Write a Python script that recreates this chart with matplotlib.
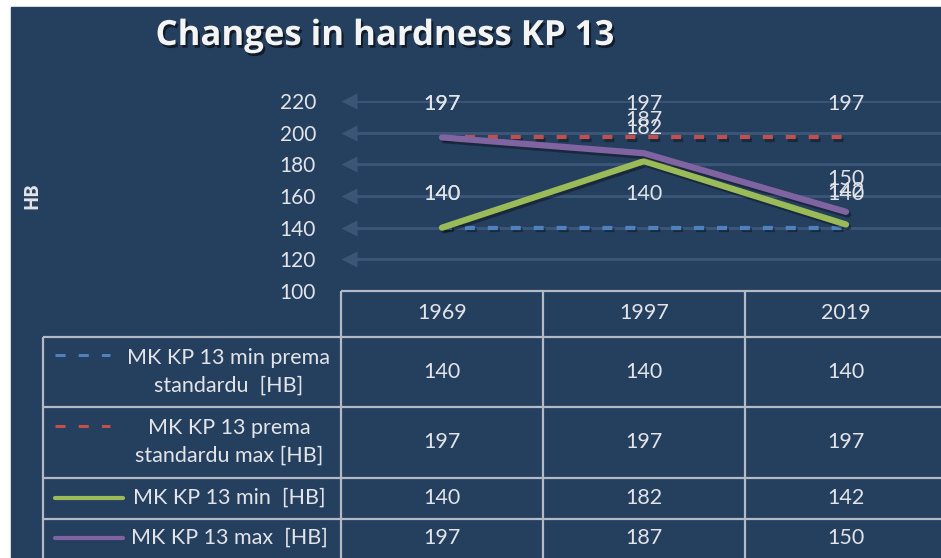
import matplotlib
matplotlib.use("Agg")
import matplotlib.pyplot as plt
import matplotlib.patheffects as pe
from matplotlib.patches import Rectangle
from matplotlib.transforms import blended_transform_factory

plt.rcParams['font.family'] = ['Lato', 'DejaVu Sans']

# podaci
godine = ["1969", "1997", "2019"]
min_standard = [140, 140, 140]
max_standard = [197, 197, 197]
kp13_min = [140, 182, 142]
kp13_max = [197, 187, 150]

nazivi = ["MK KP 13 min prema\nstandardu  [HB]",
          "MK KP 13 prema\nstandardu max [HB]",
          "MK KP 13 min  [HB]",
          "MK KP 13 max  [HB]"]

y_ticks = [100, 120, 140, 160, 180, 200, 220]

POZADINA = "#253F5F"
MREZA = "#3A5575"
TEKST = "#E2E4E8"
RUB = "#B3BAC6"
VEL = 15.5

serije = [min_standard, max_standard, kp13_min, kp13_max]
stilovi = [
    dict(color="#4F81BD", lw=3, ls=(0, (2.4, 3.1)), dash_capstyle="butt"),
    dict(color="#C0504D", lw=3, ls=(0, (2.4, 3.1)), dash_capstyle="butt"),
    dict(color="#9BBB59", lw=4.5, solid_capstyle="round", solid_joinstyle="round"),
    dict(color="#8064A2", lw=4.5, solid_capstyle="round", solid_joinstyle="round"),
]
kljuc = [
    dict(color="#4F81BD", lw=2.2, ls=(0, (3.3, 4.3)), dash_capstyle="butt"),
    dict(color="#C0504D", lw=2.2, ls=(0, (3.3, 4.3)), dash_capstyle="butt"),
    dict(color="#9BBB59", lw=3, solid_capstyle="round"),
    dict(color="#8064A2", lw=3, solid_capstyle="round"),
]

fig = plt.figure(figsize=(9.41, 5.58), dpi=100, facecolor="white")
fig.patches.append(Rectangle((11 / 941, 0), 930 / 941, 551 / 558,
                             transform=fig.transFigure, color=POZADINA, zorder=0))

# pomocne osi u pikselima za tablicu ispod grafa
tab = fig.add_axes([0, 0, 1, 1], zorder=1)
tab.set_xlim(0, 941)
tab.set_ylim(558, 0)
tab.axis("off")

ax = fig.add_axes([341 / 941, 267 / 558, 600 / 941, 190 / 558], zorder=2)
ax.set_facecolor("none")
ax.set_xlim(-0.5, -0.5 + 600 / 202)
ax.set_ylim(100, 220)
for s in ax.spines.values():
    s.set_visible(False)
ax.set_xticks([])
ax.set_yticks(y_ticks)
ax.tick_params(axis="y", length=0, pad=18, labelsize=VEL - 0.5, labelcolor=TEKST)

# linije mreze sa strelicama
mix = blended_transform_factory(ax.transAxes, ax.transData)
for v in y_ticks[1:]:
    ax.axhline(v, xmin=0.02, color=MREZA, lw=2.2, zorder=1)
    ax.plot([0.014], [v], marker="<", ms=12, color=MREZA, mec="none",
            transform=mix, clip_on=False, zorder=1)

x = list(range(len(godine)))
sjena = [pe.SimpleLineShadow(offset=(1.5, -2), shadow_color="black", alpha=0.35), pe.Normal()]
for y, st in zip(serije, stilovi):
    ax.plot(x, y, zorder=3, path_effects=sjena, **st)
    for i, v in zip(x, y):
        ax.annotate(str(v), (i, v), xytext=(0, 24), textcoords="offset points",
                    ha="center", va="center", fontsize=VEL, color=TEKST, zorder=4)

# tablica s podacima
trans = blended_transform_factory(ax.transData, tab.transData)
tab.hlines([291], 341, 941, color=RUB, lw=1.6)
tab.hlines([337, 407, 478, 519], 43, 941, color=RUB, lw=1.6)
ax.vlines([-0.5, 0.5, 1.5], 291, 558, transform=trans, color=RUB, lw=1.6, clip_on=False)
tab.vlines([43], 337, 558, color=RUB, lw=1.6)

for i, g in enumerate(godine):
    ax.text(i, 313, g, transform=trans, ha="center", va="center",
            fontsize=VEL, color=TEKST)

redovi_y = [372, 442, 498, 538]
kljuc_y = [355, 426, 498, 538]
for naziv, y, ry, ky, ks in zip(nazivi, serije, redovi_y, kljuc_y, kljuc):
    kraj = 110 if "ls" in ks else 123
    tab.plot([55, kraj], [ky, ky], **ks)
    tab.text(229, ry, naziv, ha="center", va="center", fontsize=VEL,
             color=TEKST, linespacing=1.45)
    for i, v in zip(x, y):
        ax.text(i, ry, str(v), transform=trans, ha="center", va="center",
                fontsize=VEL, color=TEKST)

fig.text(385 / 941, 1 - 36 / 558, "Changes in hardness KP 13", ha="center", va="center",
         fontsize=25, fontweight="bold", color="#F4F4F4", family=["Open Sans", "DejaVu Sans"],
         path_effects=[pe.SimplePatchShadow(offset=(1.5, -2), shadow_rgbFace="black", alpha=0.55),
                       pe.Normal()])
fig.text(32 / 941, 1 - 196 / 558, "HB", rotation=90, ha="center", va="center",
         fontsize=13.5, fontweight="bold", color=TEKST, family=["Open Sans", "DejaVu Sans"])

fig.savefig("out.png", dpi=100, facecolor="white")
